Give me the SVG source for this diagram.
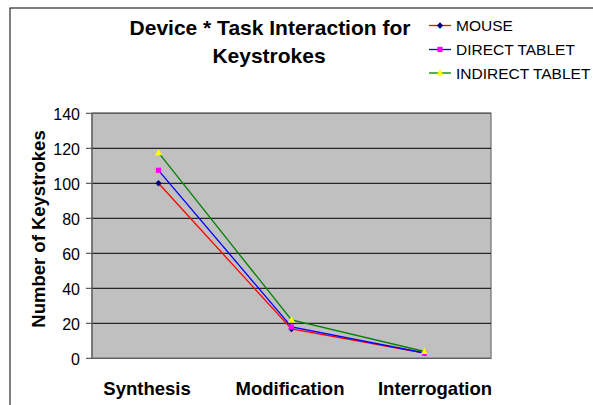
<svg xmlns="http://www.w3.org/2000/svg" width="593" height="405" viewBox="0 0 593 405">
  <style>
    .title { font-family: "Liberation Sans", Arial, sans-serif; font-size: 21px; font-weight: bold; fill: #000; text-anchor: middle; }
    .axis-title { font-family: "Liberation Sans", Arial, sans-serif; font-size: 18.5px; font-weight: bold; fill: #000; text-anchor: middle; }
    .tick { font-family: "Liberation Sans", Arial, sans-serif; font-size: 16px; fill: #000; text-anchor: end; }
    .legend { font-family: "Liberation Sans", Arial, sans-serif; font-size: 15.5px; fill: #000; }
    .grid { stroke: #000; stroke-width: 1; }
    .axis { stroke: #606060; stroke-width: 1.2; fill: none; }
    .mouse { stroke: #ff0000; stroke-width: 1.3; fill: none; }
    .direct { stroke: #0000ff; stroke-width: 1.3; fill: none; }
    .indirect { stroke: #008000; stroke-width: 1.3; fill: none; }
  </style>
  <defs>
    <path id="diamond" d="M0,-3.2 L3.2,0 L0,3.2 L-3.2,0 Z" fill="#000080"/>
    <rect id="square" x="-2.6" y="-2.6" width="5.2" height="5.2" fill="#ff00ff"/>
    <path id="triangle" d="M0,-3.8 L3.6,2.6 L-3.6,2.6 Z" fill="#ffff00"/>
  </defs>

  <rect width="593" height="405" fill="#fff"/>
  <!-- chart frame -->
  <rect x="10" y="8" width="600" height="420" fill="none" stroke="#000" stroke-width="1"/>

  <!-- title -->
  <g id="title">
    <text class="title" x="270" y="35">Device * Task Interaction for</text>
    <text class="title" x="269" y="63">Keystrokes</text>
  </g>

  <!-- plot area -->
  <g id="plot-area">
    <rect x="92" y="113.3" width="399" height="245" fill="#c0c0c0" stroke="#808080" stroke-width="1.4"/>
    <line class="grid" x1="92" y1="323.3" x2="491" y2="323.3"/>
    <line class="grid" x1="92" y1="288.3" x2="491" y2="288.3"/>
    <line class="grid" x1="92" y1="253.3" x2="491" y2="253.3"/>
    <line class="grid" x1="92" y1="218.3" x2="491" y2="218.3"/>
    <line class="grid" x1="92" y1="183.3" x2="491" y2="183.3"/>
    <line class="grid" x1="92" y1="148.3" x2="491" y2="148.3"/>
    <line x1="92" y1="113.3" x2="491" y2="113.3" stroke="#606060" stroke-width="1.4"/>
    <!-- value axis with ticks -->
    <path class="axis" d="M92,113.3 V358.3 H491 M86,358.3 H92 M86,323.3 H92 M86,288.3 H92 M86,253.3 H92 M86,218.3 H92 M86,183.3 H92 M86,148.3 H92 M86,113.3 H92"/>
  </g>

  <!-- value axis labels -->
  <g id="y-axis">
    <text class="tick" x="80" y="364.5">0</text>
    <text class="tick" x="80" y="329.5">20</text>
    <text class="tick" x="80" y="294.5">40</text>
    <text class="tick" x="80" y="259.5">60</text>
    <text class="tick" x="80" y="224.5">80</text>
    <text class="tick" x="80" y="189.5">100</text>
    <text class="tick" x="80" y="154.5">120</text>
    <text class="tick" x="80" y="119.5">140</text>
    <text class="axis-title" transform="translate(45,229) rotate(-90)">Number of Keystrokes</text>
  </g>

  <!-- category axis labels -->
  <g id="x-axis">
    <text class="axis-title" x="147" y="395">Synthesis</text>
    <text class="axis-title" x="290" y="395">Modification</text>
    <text class="axis-title" x="435" y="395">Interrogation</text>
  </g>

  <!-- data series -->
  <g id="connectors">
    <g id="series-mouse">
      <polyline class="mouse" points="158.5,183.3 291.5,329 424.5,353"/>
      <use href="#diamond" x="158.5" y="183.3"/>
      <use href="#diamond" x="291.5" y="329"/>
      <use href="#diamond" x="424.5" y="353"/>
    </g>
    <g id="series-direct">
      <polyline class="direct" points="158.5,170.3 291.5,327 424.5,353"/>
      <use href="#square" x="158.5" y="170.3"/>
      <use href="#square" x="291.5" y="327"/>
      <use href="#square" x="424.5" y="353"/>
    </g>
    <g id="series-indirect">
      <polyline class="indirect" points="158.5,152.7 291.5,320 424.5,351.5"/>
      <use href="#triangle" x="158.5" y="152.7"/>
      <use href="#triangle" x="291.5" y="320"/>
      <use href="#triangle" x="424.5" y="351.5"/>
    </g>
  </g>

  <!-- legend -->
  <g id="legend">
    <g id="legend-mouse">
      <line class="mouse" x1="429" y1="25.5" x2="451" y2="25.5"/>
      <use href="#diamond" x="440" y="25.5"/>
      <text class="legend" x="456" y="31">MOUSE</text>
    </g>
    <g id="legend-direct">
      <line class="direct" x1="429" y1="49.5" x2="451" y2="49.5"/>
      <use href="#square" x="440" y="49.5"/>
      <text class="legend" x="456" y="55">DIRECT TABLET</text>
    </g>
    <g id="legend-indirect">
      <line class="indirect" x1="429" y1="73" x2="451" y2="73"/>
      <use href="#triangle" x="440" y="73"/>
      <text class="legend" x="456" y="78.5">INDIRECT TABLET</text>
    </g>
  </g>
</svg>
